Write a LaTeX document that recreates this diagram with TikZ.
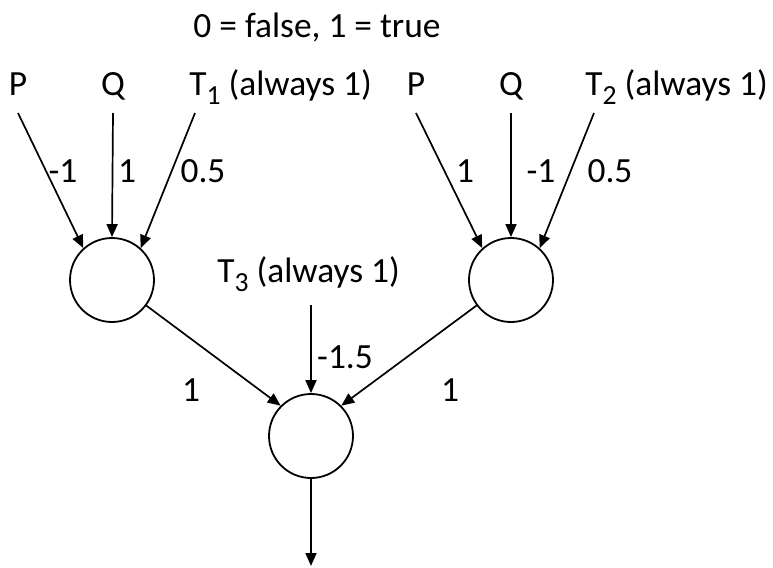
\documentclass[tikz,border=0pt]{standalone}
\usepackage{fontspec}
\setmainfont{Carlito}
\usetikzlibrary{arrows.meta}

\newcommand{\lowidx}[1]{\raisebox{-0.28em}{\fontsize{13.8}{14}\selectfont #1}}

\tikzset{
  neuron/.style={circle, draw, line width=0.9pt, minimum size=42pt, inner sep=0pt},
  wire/.style={-{Triangle[length=6.5pt,width=5.5pt]}, line width=0.85pt},
  lbl/.style={font=\fontsize{17.7}{21}\selectfont, inner sep=0pt},
}

\begin{document}
\begin{tikzpicture}[x=0.5pt, y=-0.5pt]
  \useasboundingbox (0,0) rectangle (773,568);

  \node[lbl, anchor=base] (title) at (317,37) {0 = false, 1 = true};

  % units
  \node[neuron] (h1) at (112,280) {};
  \node[neuron] (h2) at (511,280) {};
  \node[neuron] (out) at (311,436) {};

  % inputs of the left unit
  \node[lbl, anchor=base] (P1) at (18,95) {P};
  \node[lbl, anchor=base] (Q1) at (113,95) {Q};
  \node[lbl, anchor=base west] (T1) at (189,95) {T\lowidx{1} (always 1)};
  \coordinate (inP1) at (18,113);
  \coordinate (inQ1) at (113,113);
  \coordinate (inT1) at (195,113);

  % inputs of the right unit
  \node[lbl, anchor=base] (P2) at (416,95) {P};
  \node[lbl, anchor=base] (Q2) at (511,95) {Q};
  \node[lbl, anchor=base west] (T2) at (585,95) {T\lowidx{2} (always 1)};
  \coordinate (inP2) at (416,113);
  \coordinate (inQ2) at (511,113);
  \coordinate (inT2) at (594,113);

  % bias of the output unit
  \node[lbl, anchor=base west] (T3) at (217,282) {T\lowidx{3} (always 1)};
  \coordinate (inT3) at (311,305);
  \coordinate (res) at (311,566);

  \draw[wire] (inP1) -- (h1.132);
  \draw[wire] (inQ1) -- (h1.north);
  \draw[wire] (inT1) -- (h1.48);
  \draw[wire] (inP2) -- (h2.132);
  \draw[wire] (inQ2) -- (h2.north);
  \draw[wire] (inT2) -- (h2.48);
  \draw[wire] (h1) -- (out.135);
  \draw[wire] (h2) -- (out.45);
  \draw[wire] (inT3) -- (out.north);
  \draw[wire] (out.south) -- (res);

  % weights
  \node[lbl] (w11) at (63,171) {-1};
  \node[lbl] (w12) at (127,171) {1};
  \node[lbl] (w13) at (203,171) {0.5};
  \node[lbl] (w21) at (465,171) {1};
  \node[lbl] (w22) at (541,171) {-1};
  \node[lbl] (w23) at (610,171) {0.5};
  \node[lbl] (w30) at (345,357) {-1.5};
  \node[lbl] (w31) at (191,390) {1};
  \node[lbl] (w32) at (450,390) {1};
\end{tikzpicture}
\end{document}
